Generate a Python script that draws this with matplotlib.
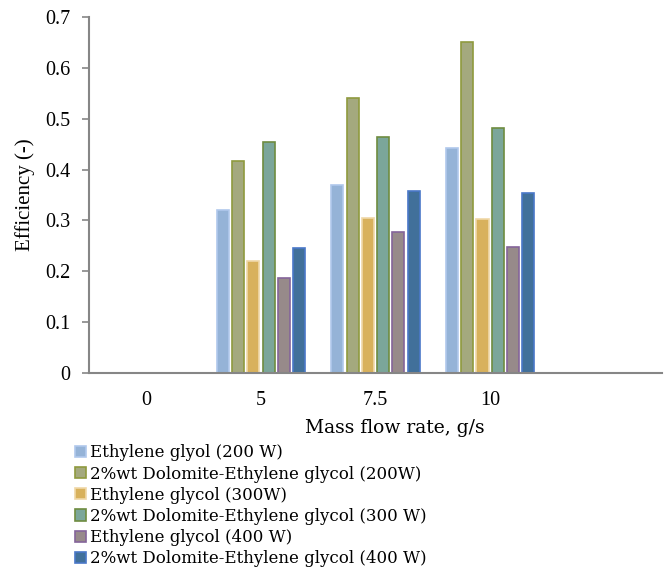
import matplotlib.pyplot as plt
import numpy as np

# data
flow_labels = ["0", "5", "7.5", "10", ""]
series_names = ["Ethylene glyol (200 W)",
                "2%wt Dolomite-Ethylene glycol (200W)",
                "Ethylene glycol (300W)",
                "2%wt Dolomite-Ethylene glycol (300 W)",
                "Ethylene glycol (400 W)",
                "2%wt Dolomite-Ethylene glycol (400 W)"]
eg_200 = [0, 0.321, 0.369, 0.443, 0]
dol_200 = [0, 0.416, 0.541, 0.650, 0]
eg_300 = [0, 0.221, 0.305, 0.302, 0]
dol_300 = [0, 0.454, 0.463, 0.481, 0]
eg_400 = [0, 0.186, 0.277, 0.247, 0]
dol_400 = [0, 0.245, 0.358, 0.354, 0]
series = [eg_200, dol_200, eg_300, dol_300, eg_400, dol_400]

# styles
fills = ["#95B3D7", "#A4A97E", "#D8B15C", "#7BA69A", "#978A8A", "#41709A"]
edges = ["#B0C8EC", "#8F9A3E", "#F0D8A8", "#6E8C40", "#84649A", "#4A78C8"]
axcolor = "#868686"

fig = plt.figure(figsize=(6.7, 5.69), dpi=100)
ax = fig.add_axes([0.133, 0.3445, 0.855, 0.6257])

x = np.arange(len(flow_labels))
step = 0.133
width = 0.105
handles = []
for i, vals in enumerate(series):
    pos = x + (i - 2.5) * step
    b = ax.bar(pos, vals, width, color=fills[i], edgecolor=edges[i],
               linewidth=1.2, label=series_names[i])
    handles.append(b)

ax.set_ylim(0, 0.7)
ax.set_yticks(np.arange(0, 0.71, 0.1))
ax.set_yticklabels(["0"] + ["%.1f" % v for v in np.arange(0.1, 0.71, 0.1)],
                   family="Liberation Serif", fontsize=14.5)
ax.set_xlim(-0.5, 4.5)
ax.set_xticks(x[:4])
ax.set_xticklabels(flow_labels[:4], family="Liberation Serif", fontsize=14.5)
ax.tick_params(axis="x", length=0, pad=13)
ax.tick_params(axis="y", length=5, color=axcolor, width=1.2, pad=8.5)

for s in ["top", "right"]:
    ax.spines[s].set_visible(False)
for s in ["left", "bottom"]:
    ax.spines[s].set_color(axcolor)
    ax.spines[s].set_linewidth(1.5)

ax.set_xlabel("Mass flow rate, g/s", family="DejaVu Serif", fontsize=13.5, va="center")
ax.xaxis.set_label_coords(0.533, -0.154)
ax.set_ylabel("Efficiency (-)", family="Liberation Serif", fontsize=15, va="center")
ax.yaxis.set_label_coords(-0.112, 0.5)

fig.legend(handles=handles, loc="upper left", bbox_to_anchor=(0.112, 0.219),
           frameon=False, prop={"family": "DejaVu Serif", "size": 12},
           handlelength=0.66, handleheight=0.66, handletextpad=0.25,
           labelspacing=0.25, borderpad=0, borderaxespad=0)

fig.savefig("out.png", dpi=100)
